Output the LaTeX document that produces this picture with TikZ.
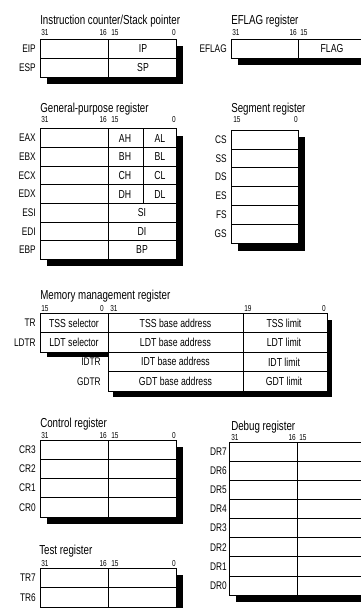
\documentclass[tikz,border=0pt]{standalone}
\usepackage{fontspec}
\setmainfont[FakeStretch=0.75]{Liberation Sans}

\begin{document}
\begin{tikzpicture}[x=0.75pt,y=-0.75pt,
  ttl/.style={font=\fontsize{9.75}{11}\selectfont,anchor=base west,inner sep=0pt},
  bit/.style={font=\fontsize{6.5}{7}\selectfont,inner sep=0pt},
  lbl/.style={font=\fontsize{8.3}{10}\selectfont,anchor=east,inner sep=0pt},
  cell/.style={font=\fontsize{8.7}{10}\selectfont,inner sep=0pt},
  frame/.style={line width=0.6pt,fill=white},
  sep/.style={line width=0.4pt},
  shd/.style={fill=black}]
\useasboundingbox (0,0) rectangle (361,608);
\clip (0,0) rectangle (361,608);

% instruction counter / stack pointer
\node[ttl] (t-ic) at (40,24.6) {Instruction counter/Stack pointer};
\node[bit,anchor=base west] (ic31) at (41,35.5) {31};
\node[bit,anchor=base east] (ic16) at (107,35.5) {16};
\node[bit,anchor=base west] (ic15) at (111,35.5) {15};
\node[bit,anchor=base east] (ic0) at (176,35.5) {0};
\fill[shd] (47,46) rectangle (183,83.5);
\draw[frame] (40,39) rectangle (176,77);
\draw[sep] (40,58) -- (176,58) (108,39) -- (108,77);
\foreach \r/\c [count=\i from 0] in {EIP/IP,ESP/SP}{
  \node[lbl] (l-\r) at (36,{48.5+19*\i}) {\r};
  \node[cell] (c-\c) at (143,{48.5+19*\i}) {\c};
}

% EFLAG
\node[ttl] (t-ef) at (231,24.6) {EFLAG register};
\node[bit,anchor=base west] (ef31) at (232,35.5) {31};
\node[bit,anchor=base east] (ef16) at (297,35.5) {16};
\node[bit,anchor=base west] (ef15) at (300,35.5) {15};
\fill[shd] (238,46) rectangle (380,65);
\draw[frame] (231,39) rectangle (375,58);
\draw[sep] (298,39) -- (298,58);
\node[lbl] (l-EFLAG) at (227,48.5) {EFLAG};
\node[cell] (c-FLAG) at (332,48.5) {FLAG};

% general-purpose
\node[ttl] (t-gp) at (40,112.6) {General-purpose register};
\node[bit,anchor=base west] (gp31) at (41,122.5) {31};
\node[bit,anchor=base east] (gp16) at (107,122.5) {16};
\node[bit,anchor=base west] (gp15) at (111,122.5) {15};
\node[bit,anchor=base east] (gp0) at (176,122.5) {0};
\fill[shd] (47,135.7) rectangle (183,265.5);
\draw[frame] (40,128.7) rectangle (176,259.3);
\foreach \i in {1,...,6} \draw[sep] (40,{128.7+18.66*\i}) -- (176,{128.7+18.66*\i});
\draw[sep] (108,128.7) -- (108,259.3) (143,128.7) -- (143,203.3);
\foreach \r/\h/\l [count=\i from 0] in {EAX/AH/AL,EBX/BH/BL,ECX/CH/CL,EDX/DH/DL}{
  \node[lbl] (l-\r) at (36,{128.7+18.66*(\i+0.5)}) {\r};
  \node[cell] (c-\h) at (125,{128.7+18.66*(\i+0.5)}) {\h};
  \node[cell] (c-\l) at (160,{128.7+18.66*(\i+0.5)}) {\l};
}
\foreach \r/\c [count=\i from 4] in {ESI/SI,EDI/DI,EBP/BP}{
  \node[lbl] (l-\r) at (36,{128.7+18.66*(\i+0.5)}) {\r};
  \node[cell] (c-\c) at (142,{128.7+18.66*(\i+0.5)}) {\c};
}

% segment
\node[ttl] (t-seg) at (231,112.6) {Segment register};
\node[bit,anchor=base west] (sg15) at (233,122.5) {15};
\node[bit,anchor=base east] (sg0) at (298,122.5) {0};
\fill[shd] (238,137) rectangle (305,250.5);
\draw[frame] (231,130) rectangle (298,243);
\foreach \i in {1,...,5} \draw[sep] (231,{130+18.83*\i}) -- (298,{130+18.83*\i});
\foreach \r [count=\i from 0] in {CS,SS,DS,ES,FS,GS}
  \node[lbl] (l-\r) at (227,{130+18.83*(\i+0.5)}) {\r};

% memory management
\node[ttl] (t-mm) at (40,299.6) {Memory management register};
\node[bit,anchor=base west] (mm15) at (41,311) {15};
\node[bit,anchor=base east] (mm0a) at (104,311) {0};
\node[bit,anchor=base west] (mm31) at (110,311) {31};
\node[bit,anchor=base west] (mm19) at (244,311) {19};
\node[bit,anchor=base east] (mm0b) at (326,311) {0};
\fill[shd] (47,320) rectangle (108,357);
\fill[shd] (113,320) rectangle (332,397);
\draw[frame] (40,313.3) rectangle (108,352.1);
\draw[frame] (108,313.3) rectangle (327,391);
\draw[sep] (40,332.7) -- (327,332.7) (108,352.1) -- (327,352.1) (108,371.5) -- (327,371.5)
  (243,313.3) -- (243,391);
\foreach \r/\s [count=\i from 0] in {TR/TSS,LDTR/LDT}{
  \node[lbl] (l-\r) at (36,{323+19.42*\i}) {\r};
  \node[cell] (c-\s-sel) at (74,{323+19.42*\i}) {\s\ selector};
}
\foreach \r [count=\i from 2] in {IDTR,GDTR}
  \node[lbl] (l-\r) at (101,{323+19.42*\i}) {\r};
\foreach \s [count=\i from 0] in {TSS,LDT,IDT,GDT}{
  \node[cell] (c-\s-base) at (175.5,{323+19.42*\i}) {\s\ base address};
  \node[cell] (c-\s-lim) at (284,{323+19.42*\i}) {\s\ limit};
}

% control
\node[ttl] (t-cr) at (40,427.6) {Control register};
\node[bit,anchor=base west] (cr31) at (41,438.5) {31};
\node[bit,anchor=base east] (cr16) at (107,438.5) {16};
\node[bit,anchor=base west] (cr15) at (111,438.5) {15};
\node[bit,anchor=base east] (cr0) at (176,438.5) {0};
\fill[shd] (47,447) rectangle (183,523.5);
\draw[frame] (40,440) rectangle (176,517);
\foreach \i in {1,...,3} \draw[sep] (40,{440+19.25*\i}) -- (176,{440+19.25*\i});
\draw[sep] (108,440) -- (108,517);
\foreach \r [count=\i from 0] in {CR3,CR2,CR1,CR0}
  \node[lbl] (l-\r) at (36,{440+19.25*(\i+0.5)}) {\r};

% debug
\node[ttl] (t-dr) at (231,430.6) {Debug register};
\node[bit,anchor=base west] (dr31) at (231,440.5) {31};
\node[bit,anchor=base east] (dr16) at (296,440.5) {16};
\node[bit,anchor=base west] (dr15) at (299,440.5) {15};
\fill[shd] (236,449) rectangle (380,602);
\draw[frame] (229,442) rectangle (375,595);
\foreach \i in {1,...,7} \draw[sep] (229,{442+19.125*\i}) -- (375,{442+19.125*\i});
\draw[sep] (297,442) -- (297,595);
\foreach \r [count=\i from 0] in {DR7,DR6,DR5,DR4,DR3,DR2,DR1,DR0}
  \node[lbl] (l-\r) at (227,{442+19.125*(\i+0.5)}) {\r};

% test
\node[ttl] (t-tr) at (39,554.6) {Test register};
\node[bit,anchor=base west] (tr31) at (41,566) {31};
\node[bit,anchor=base east] (tr16) at (107,566) {16};
\node[bit,anchor=base west] (tr15) at (111,566) {15};
\node[bit,anchor=base east] (tr0) at (176,566) {0};
\fill[shd] (47,575) rectangle (183,614);
\draw[frame] (40,568) rectangle (176,607);
\draw[sep] (40,587.5) -- (176,587.5) (108,568) -- (108,607);
\foreach \r [count=\i from 0] in {TR7,TR6}
  \node[lbl] (l-\r) at (36,{568+19.5*(\i+0.5)}) {\r};
\end{tikzpicture}
\end{document}
